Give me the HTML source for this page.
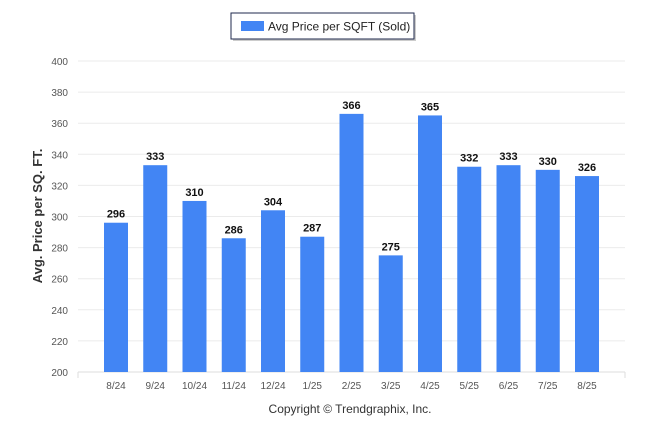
<!DOCTYPE html>
<html><head><meta charset="utf-8"><style>
body{margin:0;background:#fff;font-family:"Liberation Sans",sans-serif}
</style></head><body>
<svg width="646" height="434" xmlns="http://www.w3.org/2000/svg">
<rect width="646" height="434" fill="#fff"/>
<g>
<rect x="233" y="15" width="183" height="26" fill="#999" opacity="0.5"/>
<rect x="231" y="13" width="183" height="26" fill="#fff" stroke="#1f2a4d" stroke-width="1"/>
<rect x="241" y="21" width="23" height="10" fill="#4285f4"/>
<text x="268" y="30.5" font-size="12" fill="#222">Avg Price per SQFT (Sold)</text>
</g>
<g id="grid"></g>
<g id="bars"></g>
<text transform="translate(42,216) rotate(-90)" text-anchor="middle" font-size="13" font-weight="bold" fill="#333">Avg. Price per SQ. FT.</text>
<text x="350" y="413" text-anchor="middle" font-size="12" fill="#333">Copyright © Trendgraphix, Inc.</text>
</svg>
<script>
const categories=["8/24","9/24","10/24","11/24","12/24","1/25","2/25","3/25","4/25","5/25","6/25","7/25","8/25"];
const values=[296,333,310,286,304,287,366,275,365,332,333,330,326];
const yTicks=[200,220,240,260,280,300,320,340,360,380,400];
const NS="http://www.w3.org/2000/svg";
const yMin=200,yMax=400,yTop=61,yBot=372,xLeft=78,xRight=625;
function y(v){return yBot-(v-yMin)/(yMax-yMin)*(yBot-yTop);}
const step=(xRight-xLeft-(116-xLeft)*2+39.25)/categories.length;
function x(i){return 116+i*39.25;}
function mk(t,a,p){const e=document.createElementNS(NS,t);for(const k in a)e.setAttribute(k,a[k]);p.appendChild(e);return e;}
const g=document.getElementById('grid'),b=document.getElementById('bars');
yTicks.forEach(t=>{
 const l=mk('line',{x1:xLeft,x2:xRight,y1:y(t),y2:y(t),stroke:t===yMin?'#ddd':'#ebebeb','stroke-width':1},g);
 
 
 const tx=mk('text',{x:68,y:y(t)+4,'text-anchor':'end','font-size':10,fill:'#555'},g);
 tx.textContent=t;
 
 
});
for(const xx of [xLeft,xRight]){const l=mk('line',{x1:xx,x2:xx,y1:yBot,y2:yBot+6,stroke:'#ddd'},g);
 
 }
categories.forEach((c,i)=>{
 const cx=x(i),v=values[i];
 const r=mk('rect',{x:cx-12,y:y(v),width:24,height:yBot-y(v),fill:'#4285f4'},b);
 
 
 const t=mk('text',{x:cx,y:y(v)-5,'text-anchor':'middle','font-size':11,'font-weight':'bold',fill:'#111'},b);
 t.textContent=v;
 
 
 const xl=mk('text',{x:cx,y:389,'text-anchor':'middle','font-size':10,fill:'#555'},b);
 xl.textContent=c;
 
 
});
</script>
</body></html>
